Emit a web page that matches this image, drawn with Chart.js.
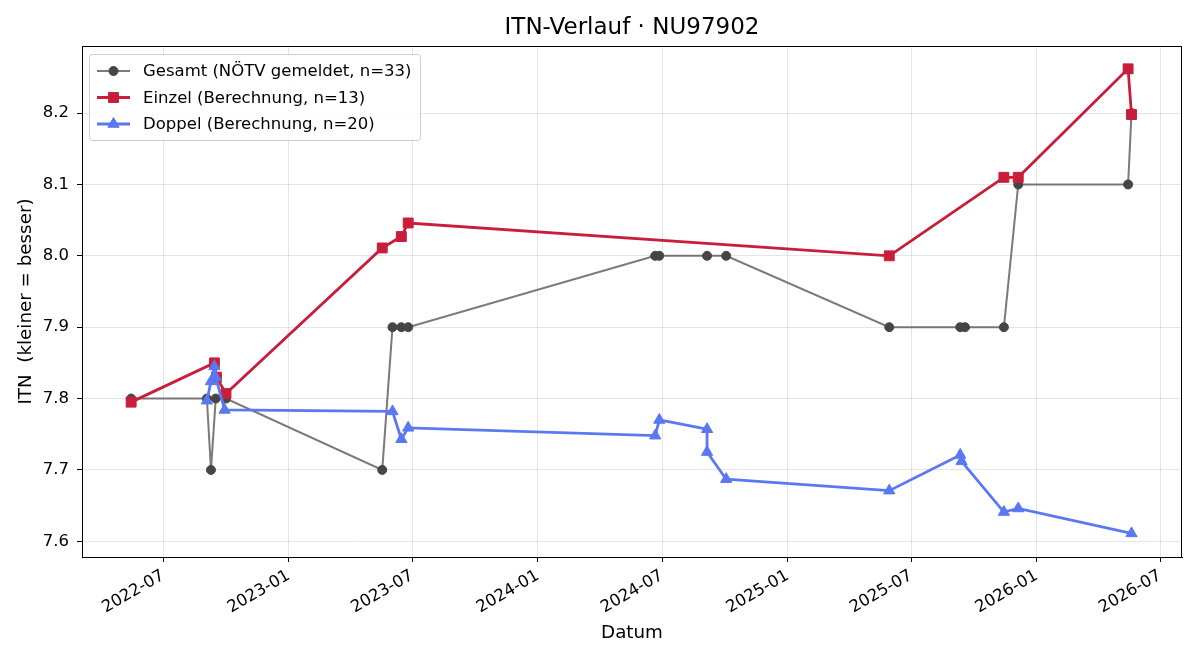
<!DOCTYPE html>
<html>
<head>
<meta charset="utf-8">
<title>ITN-Verlauf · NU97902</title>
<script src="https://cdn.jsdelivr.net/npm/chart.js@4/dist/chart.umd.min.js"></script>
<style>
  html, body { margin: 0; padding: 0; background: #fff; }
  #wrap { width: 1200px; height: 660px; }
</style>
</head>
<body>
<div id="wrap"><canvas id="chart" width="1200" height="660"></canvas></div>
<script>
// data
const gesamtDates = ['2022-05-15', '2022-09-03', '2022-09-09', '2022-09-16', '2022-10-01', '2023-05-18', '2023-06-02', '2023-06-15', '2023-06-25', '2024-06-21', '2024-06-27', '2024-09-05', '2024-10-03', '2025-05-30', '2025-09-11', '2025-09-18', '2025-11-14', '2025-12-05', '2026-05-15', '2026-05-20']
const gesamtValues = [7.80, 7.80, 7.70, 7.80, 7.80, 7.70, 7.90, 7.90, 7.90, 8.00, 8.00, 8.00, 8.00, 7.90, 7.90, 7.90, 7.90, 8.10, 8.10, 8.20]

const einzelDates = ['2022-05-15', '2022-09-14', '2022-09-17', '2022-10-01', '2023-05-18', '2023-06-15', '2023-06-25', '2025-05-30', '2025-11-14', '2025-12-05', '2026-05-15', '2026-05-20']
const einzelValues = [7.795, 7.850, 7.830, 7.807, 8.011, 8.027, 8.046, 8.000, 8.110, 8.110, 8.262, 8.198]

const doppelDates = ['2022-09-03', '2022-09-09', '2022-09-14', '2022-09-16', '2022-09-29', '2023-06-02', '2023-06-15', '2023-06-25', '2024-06-21', '2024-06-27', '2024-09-05', '2024-09-05', '2024-10-03', '2025-05-30', '2025-09-11', '2025-09-13', '2025-11-14', '2025-12-05', '2026-05-20']
const doppelValues = [7.797, 7.824, 7.845, 7.830, 7.784, 7.782, 7.743, 7.759, 7.748, 7.770, 7.757, 7.725, 7.687, 7.671, 7.721, 7.712, 7.641, 7.646, 7.611]

const xTickLabels = ['2022-07', '2023-01', '2023-07', '2024-01', '2024-07', '2025-01', '2025-07', '2026-01', '2026-07']
const yTickValues = [7.6, 7.7, 7.8, 7.9, 8.0, 8.1, 8.2]

const seriesLabels = ['Gesamt (NÖTV gemeldet, n=33)', 'Einzel (Berechnung, n=13)', 'Doppel (Berechnung, n=20)']
const chartTitle = 'ITN-Verlauf · NU97902'

const FONT = "'DejaVu Sans', sans-serif"

const toTime = s => {
  const [y, m, d] = s.split('-').map(Number)
  return Date.UTC(y, m - 1, d || 1)
}
const toPoints = (dates, values) => dates.map((d, i) => ({ x: toTime(d), y: values[i] }))
const fmtMonth = v => {
  const d = new Date(v)
  return `${d.getUTCFullYear()}-${String(d.getUTCMonth() + 1).padStart(2, '0')}`
}

const styles = [
  { line: 'rgba(85,85,85,0.78)', point: '#454545', shape: 'circle', radius: 4.5, width: 2 },
  { line: '#c81e3c', point: '#c81e3c', shape: 'rect', radius: 7, width: 2.8 },
  { line: '#5a78f0', point: '#5a78f0', shape: 'triangle', radius: 6.5, width: 2.8 }
]

// title centred over the plot area, like matplotlib
const plotTitle = {
  id: 'plotTitle',
  afterDraw(chart) {
    const { left, right } = chart.chartArea
    const ctx = chart.ctx
    ctx.save()
    ctx.fillStyle = '#000'
    ctx.font = `23px ${FONT}`
    ctx.textAlign = 'center'
    ctx.textBaseline = 'middle'
    ctx.fillText(chartTitle, (left + right) / 2, 28)
    ctx.restore()
  }
}

// matplotlib-like legend: line with marker in the middle
const legendBox = {
  id: 'legendBox',
  afterDraw(chart) {
    const ctx = chart.ctx
    const x = 89, y = 54, w = 331, h = 86
    ctx.save()
    ctx.fillStyle = 'rgba(255,255,255,0.85)'
    ctx.strokeStyle = '#cccccc'
    ctx.lineWidth = 1
    ctx.beginPath()
    ctx.roundRect(x + 0.5, y + 0.5, w, h, 3)
    ctx.fill()
    ctx.stroke()
    seriesLabels.forEach((label, i) => {
      const s = styles[i]
      const cy = 71 + i * 26.5
      ctx.strokeStyle = s.line
      ctx.lineWidth = s.width
      ctx.beginPath()
      ctx.moveTo(97, cy)
      ctx.lineTo(130, cy)
      ctx.stroke()
      ctx.fillStyle = s.point
      ctx.strokeStyle = s.point
      ctx.lineWidth = 1
      Chart.helpers.drawPoint(ctx, { pointStyle: s.shape, radius: s.radius, borderWidth: 1 }, 113.5, cy)
      ctx.fillStyle = '#000'
      ctx.font = `16.5px ${FONT}`
      ctx.textBaseline = 'middle'
      ctx.textAlign = 'left'
      ctx.fillText(label, 143, cy + 1)
    })
    ctx.restore()
  }
}

// box round the plot area
const frame = {
  id: 'frame',
  afterDatasetsDraw(chart) {
    const { left, top, right, bottom } = chart.chartArea
    const ctx = chart.ctx
    ctx.save()
    ctx.strokeStyle = '#000'
    ctx.lineWidth = 1
    ctx.strokeRect(Math.round(left) + 0.5, Math.round(top) + 0.5, Math.round(right - left) - 1, Math.round(bottom - top))
    ctx.restore()
  }
}

const makeSet = (label, dates, values, s, order) => ({
  label,
  data: toPoints(dates, values),
  borderColor: s.line,
  borderWidth: s.width,
  backgroundColor: s.point,
  pointBackgroundColor: s.point,
  pointBorderColor: s.point,
  pointBorderWidth: 1,
  pointStyle: s.shape,
  pointRadius: s.radius,
  pointHoverRadius: s.radius,
  tension: 0,
  fill: false,
  order
})

const chart = document.getElementById('chart')
new Chart(chart, {
  type: 'line',
  data: {
    datasets: [
      makeSet(seriesLabels[0], gesamtDates, gesamtValues, styles[0], 3),
      makeSet(seriesLabels[1], einzelDates, einzelValues, styles[1], 2),
      makeSet(seriesLabels[2], doppelDates, doppelValues, styles[2], 1)
    ]
  },
  options: {
    responsive: false,
    animation: false,
    devicePixelRatio: 1,
    layout: { padding: { left: 0, right: 18, top: 46, bottom: 0 } },
    plugins: {
      legend: { display: false },
      tooltip: { enabled: false },
      title: { display: false }
    },
    scales: {
      x: {
        type: 'linear',
        min: toTime('2022-03-04'),
        max: toTime('2026-08-02'),
        afterBuildTicks: axis => { axis.ticks = xTickLabels.map(l => ({ value: toTime(l) })) },
        afterFit: axis => { axis.height = 103 },
        ticks: {
          autoSkip: false,
          minRotation: 30,
          maxRotation: 30,
          padding: 4,
          color: '#000',
          font: { family: FONT, size: 16.5 },
          callback: v => fmtMonth(v)
        },
        grid: { color: 'rgba(0,0,0,0.1)', tickColor: '#000', tickLength: 5 },
        border: { display: true, color: '#000' },
        title: {
          display: true,
          text: 'Datum',
          color: '#000',
          font: { family: FONT, size: 18.3 },
          padding: { top: 0, bottom: 16 }
        }
      },
      y: {
        min: 7.578,
        max: 8.294,
        afterBuildTicks: axis => { axis.ticks = yTickValues.map(v => ({ value: v })) },
        afterFit: axis => { axis.width = 82 },
        ticks: {
          padding: 8,
          color: '#000',
          font: { family: FONT, size: 16.5 },
          callback: v => v.toFixed(1)
        },
        grid: { color: 'rgba(0,0,0,0.1)', tickColor: '#000', tickLength: 5 },
        border: { display: true, color: '#000' },
        title: {
          display: true,
          text: 'ITN  (kleiner = besser)',
          color: '#000',
          font: { family: FONT, size: 18.3 },
          padding: { top: 15, bottom: 0 }
        }
      }
    }
  },
  plugins: [frame, legendBox, plotTitle]
})
</script>
</body>
</html>
